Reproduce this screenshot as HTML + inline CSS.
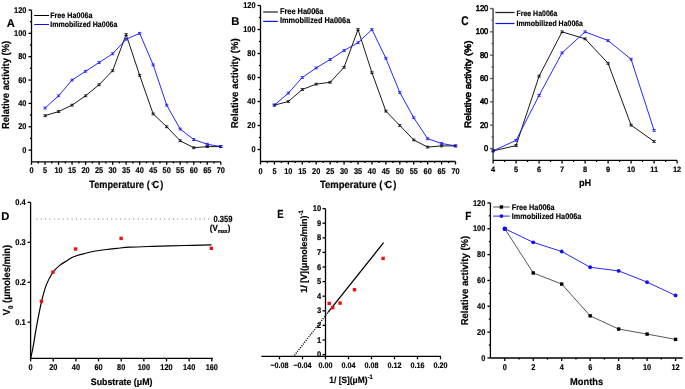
<!DOCTYPE html>
<html><head><meta charset="utf-8"><style>
html,body{margin:0;padding:0;background:#fff;}
body{width:685px;height:389px;overflow:hidden;}
svg{display:block;font-family:"Liberation Sans", sans-serif;text-rendering:geometricPrecision;will-change:transform;}
text{stroke:#000;stroke-width:0.18px;}
</style></head><body>
<svg width="685" height="389" viewBox="0 0 685 389">
<rect width="685" height="389" fill="#fff"/>
<line x1="31.5" y1="10" x2="31.5" y2="161.8" stroke="#000" stroke-width="1.3" />
<line x1="28.5" y1="150.1" x2="31.5" y2="150.1" stroke="#000" stroke-width="1.3" />
<line x1="28.5" y1="126.75" x2="31.5" y2="126.75" stroke="#000" stroke-width="1.3" />
<line x1="28.5" y1="103.4" x2="31.5" y2="103.4" stroke="#000" stroke-width="1.3" />
<line x1="28.5" y1="80.05" x2="31.5" y2="80.05" stroke="#000" stroke-width="1.3" />
<line x1="28.5" y1="56.7" x2="31.5" y2="56.7" stroke="#000" stroke-width="1.3" />
<line x1="28.5" y1="33.35" x2="31.5" y2="33.35" stroke="#000" stroke-width="1.3" />
<line x1="28.5" y1="10" x2="31.5" y2="10" stroke="#000" stroke-width="1.3" />
<line x1="29.9" y1="138.42" x2="31.5" y2="138.42" stroke="#000" stroke-width="1.3" />
<line x1="29.9" y1="115.07" x2="31.5" y2="115.07" stroke="#000" stroke-width="1.3" />
<line x1="29.9" y1="91.72" x2="31.5" y2="91.72" stroke="#000" stroke-width="1.3" />
<line x1="29.9" y1="68.38" x2="31.5" y2="68.38" stroke="#000" stroke-width="1.3" />
<line x1="29.9" y1="45.02" x2="31.5" y2="45.02" stroke="#000" stroke-width="1.3" />
<line x1="29.9" y1="21.67" x2="31.5" y2="21.67" stroke="#000" stroke-width="1.3" />
<text transform="translate(26.4,152.8) scale(0.88,1)" font-size="8.4" text-anchor="end" font-weight="bold" fill="#000" >0</text>
<text transform="translate(26.4,129.45) scale(0.88,1)" font-size="8.4" text-anchor="end" font-weight="bold" fill="#000" >20</text>
<text transform="translate(26.4,106.1) scale(0.88,1)" font-size="8.4" text-anchor="end" font-weight="bold" fill="#000" >40</text>
<text transform="translate(26.4,82.75) scale(0.88,1)" font-size="8.4" text-anchor="end" font-weight="bold" fill="#000" >60</text>
<text transform="translate(26.4,59.4) scale(0.88,1)" font-size="8.4" text-anchor="end" font-weight="bold" fill="#000" >80</text>
<text transform="translate(26.4,36.05) scale(0.88,1)" font-size="8.4" text-anchor="end" font-weight="bold" fill="#000" >100</text>
<text transform="translate(26.4,12.7) scale(0.88,1)" font-size="8.4" text-anchor="end" font-weight="bold" fill="#000" >120</text>
<line x1="31.5" y1="161.8" x2="220.8" y2="161.8" stroke="#000" stroke-width="1.3" />
<line x1="31.5" y1="161.8" x2="31.5" y2="164.8" stroke="#000" stroke-width="1.3" />
<line x1="45.02" y1="161.8" x2="45.02" y2="164.8" stroke="#000" stroke-width="1.3" />
<line x1="58.54" y1="161.8" x2="58.54" y2="164.8" stroke="#000" stroke-width="1.3" />
<line x1="72.06" y1="161.8" x2="72.06" y2="164.8" stroke="#000" stroke-width="1.3" />
<line x1="85.58" y1="161.8" x2="85.58" y2="164.8" stroke="#000" stroke-width="1.3" />
<line x1="99.1" y1="161.8" x2="99.1" y2="164.8" stroke="#000" stroke-width="1.3" />
<line x1="112.62" y1="161.8" x2="112.62" y2="164.8" stroke="#000" stroke-width="1.3" />
<line x1="126.14" y1="161.8" x2="126.14" y2="164.8" stroke="#000" stroke-width="1.3" />
<line x1="139.66" y1="161.8" x2="139.66" y2="164.8" stroke="#000" stroke-width="1.3" />
<line x1="153.18" y1="161.8" x2="153.18" y2="164.8" stroke="#000" stroke-width="1.3" />
<line x1="166.7" y1="161.8" x2="166.7" y2="164.8" stroke="#000" stroke-width="1.3" />
<line x1="180.22" y1="161.8" x2="180.22" y2="164.8" stroke="#000" stroke-width="1.3" />
<line x1="193.74" y1="161.8" x2="193.74" y2="164.8" stroke="#000" stroke-width="1.3" />
<line x1="207.26" y1="161.8" x2="207.26" y2="164.8" stroke="#000" stroke-width="1.3" />
<line x1="220.78" y1="161.8" x2="220.78" y2="164.8" stroke="#000" stroke-width="1.3" />
<line x1="38.26" y1="161.8" x2="38.26" y2="163.4" stroke="#000" stroke-width="1.3" />
<line x1="51.78" y1="161.8" x2="51.78" y2="163.4" stroke="#000" stroke-width="1.3" />
<line x1="65.3" y1="161.8" x2="65.3" y2="163.4" stroke="#000" stroke-width="1.3" />
<line x1="78.82" y1="161.8" x2="78.82" y2="163.4" stroke="#000" stroke-width="1.3" />
<line x1="92.34" y1="161.8" x2="92.34" y2="163.4" stroke="#000" stroke-width="1.3" />
<line x1="105.86" y1="161.8" x2="105.86" y2="163.4" stroke="#000" stroke-width="1.3" />
<line x1="119.38" y1="161.8" x2="119.38" y2="163.4" stroke="#000" stroke-width="1.3" />
<line x1="132.9" y1="161.8" x2="132.9" y2="163.4" stroke="#000" stroke-width="1.3" />
<line x1="146.42" y1="161.8" x2="146.42" y2="163.4" stroke="#000" stroke-width="1.3" />
<line x1="159.94" y1="161.8" x2="159.94" y2="163.4" stroke="#000" stroke-width="1.3" />
<line x1="173.46" y1="161.8" x2="173.46" y2="163.4" stroke="#000" stroke-width="1.3" />
<line x1="186.98" y1="161.8" x2="186.98" y2="163.4" stroke="#000" stroke-width="1.3" />
<line x1="200.5" y1="161.8" x2="200.5" y2="163.4" stroke="#000" stroke-width="1.3" />
<line x1="214.02" y1="161.8" x2="214.02" y2="163.4" stroke="#000" stroke-width="1.3" />
<text transform="translate(31.5,173.4) scale(0.88,1)" font-size="8.4" text-anchor="middle" font-weight="bold" fill="#000" >0</text>
<text transform="translate(45.02,173.4) scale(0.88,1)" font-size="8.4" text-anchor="middle" font-weight="bold" fill="#000" >5</text>
<text transform="translate(58.54,173.4) scale(0.88,1)" font-size="8.4" text-anchor="middle" font-weight="bold" fill="#000" >10</text>
<text transform="translate(72.06,173.4) scale(0.88,1)" font-size="8.4" text-anchor="middle" font-weight="bold" fill="#000" >15</text>
<text transform="translate(85.58,173.4) scale(0.88,1)" font-size="8.4" text-anchor="middle" font-weight="bold" fill="#000" >20</text>
<text transform="translate(99.1,173.4) scale(0.88,1)" font-size="8.4" text-anchor="middle" font-weight="bold" fill="#000" >25</text>
<text transform="translate(112.62,173.4) scale(0.88,1)" font-size="8.4" text-anchor="middle" font-weight="bold" fill="#000" >30</text>
<text transform="translate(126.14,173.4) scale(0.88,1)" font-size="8.4" text-anchor="middle" font-weight="bold" fill="#000" >35</text>
<text transform="translate(139.66,173.4) scale(0.88,1)" font-size="8.4" text-anchor="middle" font-weight="bold" fill="#000" >40</text>
<text transform="translate(153.18,173.4) scale(0.88,1)" font-size="8.4" text-anchor="middle" font-weight="bold" fill="#000" >45</text>
<text transform="translate(166.7,173.4) scale(0.88,1)" font-size="8.4" text-anchor="middle" font-weight="bold" fill="#000" >50</text>
<text transform="translate(180.22,173.4) scale(0.88,1)" font-size="8.4" text-anchor="middle" font-weight="bold" fill="#000" >55</text>
<text transform="translate(193.74,173.4) scale(0.88,1)" font-size="8.4" text-anchor="middle" font-weight="bold" fill="#000" >60</text>
<text transform="translate(207.26,173.4) scale(0.88,1)" font-size="8.4" text-anchor="middle" font-weight="bold" fill="#000" >65</text>
<text transform="translate(220.78,173.4) scale(0.88,1)" font-size="8.4" text-anchor="middle" font-weight="bold" fill="#000" >70</text>
<text transform="translate(10.7,26.8) scale(1.0,1)" font-size="11.2" text-anchor="middle" font-weight="bold" fill="#000" >A</text>
<text transform="translate(9,84.9) rotate(-90) scale(0.92,1)" font-size="10.2" text-anchor="middle" font-weight="bold" >Relative activity (%)</text>
<text transform="translate(126.3,188.1) scale(0.883,1)" font-size="10.4" text-anchor="middle" font-weight="bold" fill="#000" >Temperature (<tspan dx="1.6" font-size="8" dy="-0.6">°</tspan><tspan dx="-1.6" dy="0.6">C</tspan><tspan dx="1.2">)</tspan></text>
<line x1="34.2" y1="15.5" x2="49" y2="15.5" stroke="#000" stroke-width="1.0" />
<line x1="34.2" y1="24.5" x2="49" y2="24.5" stroke="#1010f5" stroke-width="1.0" />
<text transform="translate(50.2,17.9) scale(0.895,1)" font-size="8.0" text-anchor="start" font-weight="bold" fill="#000" >Free Ha006a</text>
<text transform="translate(50.2,26.8) scale(0.879,1)" font-size="8.0" text-anchor="start" font-weight="bold" fill="#000" >Immobilized Ha006a</text>
<polyline points="45.02,115.66 58.54,111.57 72.06,105.15 85.58,95.81 99.1,84.72 112.62,70.71 126.14,34.52 139.66,75.38 153.18,113.91 166.7,126.75 180.22,140.76 193.74,147.76 207.26,146.6 220.78,146.6" fill="none" stroke="#000" stroke-width="0.9" stroke-linejoin="miter"/>
<polyline points="45.02,108.07 58.54,95.81 72.06,80.05 85.58,71.29 99.1,62.54 112.62,53.78 126.14,39.19 139.66,33.35 153.18,64.87 166.7,105.15 180.22,129.08 193.74,139.59 207.26,144.26 220.78,146.6" fill="none" stroke="#1010f5" stroke-width="0.9" stroke-linejoin="miter"/>
<line x1="45.02" y1="114.76" x2="45.02" y2="116.56" stroke="#000" stroke-width="0.8" />
<line x1="43.32" y1="114.76" x2="46.72" y2="114.76" stroke="#000" stroke-width="0.8" />
<line x1="43.32" y1="116.56" x2="46.72" y2="116.56" stroke="#000" stroke-width="0.8" />
<line x1="58.54" y1="110.67" x2="58.54" y2="112.47" stroke="#000" stroke-width="0.8" />
<line x1="56.84" y1="110.67" x2="60.24" y2="110.67" stroke="#000" stroke-width="0.8" />
<line x1="56.84" y1="112.47" x2="60.24" y2="112.47" stroke="#000" stroke-width="0.8" />
<line x1="72.06" y1="104.25" x2="72.06" y2="106.05" stroke="#000" stroke-width="0.8" />
<line x1="70.36" y1="104.25" x2="73.76" y2="104.25" stroke="#000" stroke-width="0.8" />
<line x1="70.36" y1="106.05" x2="73.76" y2="106.05" stroke="#000" stroke-width="0.8" />
<line x1="85.58" y1="94.91" x2="85.58" y2="96.71" stroke="#000" stroke-width="0.8" />
<line x1="83.88" y1="94.91" x2="87.28" y2="94.91" stroke="#000" stroke-width="0.8" />
<line x1="83.88" y1="96.71" x2="87.28" y2="96.71" stroke="#000" stroke-width="0.8" />
<line x1="99.1" y1="83.82" x2="99.1" y2="85.62" stroke="#000" stroke-width="0.8" />
<line x1="97.4" y1="83.82" x2="100.8" y2="83.82" stroke="#000" stroke-width="0.8" />
<line x1="97.4" y1="85.62" x2="100.8" y2="85.62" stroke="#000" stroke-width="0.8" />
<line x1="112.62" y1="69.81" x2="112.62" y2="71.61" stroke="#000" stroke-width="0.8" />
<line x1="110.92" y1="69.81" x2="114.32" y2="69.81" stroke="#000" stroke-width="0.8" />
<line x1="110.92" y1="71.61" x2="114.32" y2="71.61" stroke="#000" stroke-width="0.8" />
<line x1="126.14" y1="33.62" x2="126.14" y2="35.42" stroke="#000" stroke-width="0.8" />
<line x1="124.44" y1="33.62" x2="127.84" y2="33.62" stroke="#000" stroke-width="0.8" />
<line x1="124.44" y1="35.42" x2="127.84" y2="35.42" stroke="#000" stroke-width="0.8" />
<line x1="139.66" y1="74.48" x2="139.66" y2="76.28" stroke="#000" stroke-width="0.8" />
<line x1="137.96" y1="74.48" x2="141.36" y2="74.48" stroke="#000" stroke-width="0.8" />
<line x1="137.96" y1="76.28" x2="141.36" y2="76.28" stroke="#000" stroke-width="0.8" />
<line x1="153.18" y1="113.01" x2="153.18" y2="114.81" stroke="#000" stroke-width="0.8" />
<line x1="151.48" y1="113.01" x2="154.88" y2="113.01" stroke="#000" stroke-width="0.8" />
<line x1="151.48" y1="114.81" x2="154.88" y2="114.81" stroke="#000" stroke-width="0.8" />
<line x1="166.7" y1="125.85" x2="166.7" y2="127.65" stroke="#000" stroke-width="0.8" />
<line x1="165" y1="125.85" x2="168.4" y2="125.85" stroke="#000" stroke-width="0.8" />
<line x1="165" y1="127.65" x2="168.4" y2="127.65" stroke="#000" stroke-width="0.8" />
<line x1="180.22" y1="139.86" x2="180.22" y2="141.66" stroke="#000" stroke-width="0.8" />
<line x1="178.52" y1="139.86" x2="181.92" y2="139.86" stroke="#000" stroke-width="0.8" />
<line x1="178.52" y1="141.66" x2="181.92" y2="141.66" stroke="#000" stroke-width="0.8" />
<line x1="193.74" y1="146.86" x2="193.74" y2="148.66" stroke="#000" stroke-width="0.8" />
<line x1="192.04" y1="146.86" x2="195.44" y2="146.86" stroke="#000" stroke-width="0.8" />
<line x1="192.04" y1="148.66" x2="195.44" y2="148.66" stroke="#000" stroke-width="0.8" />
<line x1="207.26" y1="145.7" x2="207.26" y2="147.5" stroke="#000" stroke-width="0.8" />
<line x1="205.56" y1="145.7" x2="208.96" y2="145.7" stroke="#000" stroke-width="0.8" />
<line x1="205.56" y1="147.5" x2="208.96" y2="147.5" stroke="#000" stroke-width="0.8" />
<line x1="220.78" y1="145.7" x2="220.78" y2="147.5" stroke="#000" stroke-width="0.8" />
<line x1="219.08" y1="145.7" x2="222.48" y2="145.7" stroke="#000" stroke-width="0.8" />
<line x1="219.08" y1="147.5" x2="222.48" y2="147.5" stroke="#000" stroke-width="0.8" />
<line x1="45.02" y1="107.17" x2="45.02" y2="108.97" stroke="#1010f5" stroke-width="0.8" />
<line x1="43.32" y1="107.17" x2="46.72" y2="107.17" stroke="#1010f5" stroke-width="0.8" />
<line x1="43.32" y1="108.97" x2="46.72" y2="108.97" stroke="#1010f5" stroke-width="0.8" />
<line x1="58.54" y1="94.91" x2="58.54" y2="96.71" stroke="#1010f5" stroke-width="0.8" />
<line x1="56.84" y1="94.91" x2="60.24" y2="94.91" stroke="#1010f5" stroke-width="0.8" />
<line x1="56.84" y1="96.71" x2="60.24" y2="96.71" stroke="#1010f5" stroke-width="0.8" />
<line x1="72.06" y1="79.15" x2="72.06" y2="80.95" stroke="#1010f5" stroke-width="0.8" />
<line x1="70.36" y1="79.15" x2="73.76" y2="79.15" stroke="#1010f5" stroke-width="0.8" />
<line x1="70.36" y1="80.95" x2="73.76" y2="80.95" stroke="#1010f5" stroke-width="0.8" />
<line x1="85.58" y1="70.39" x2="85.58" y2="72.19" stroke="#1010f5" stroke-width="0.8" />
<line x1="83.88" y1="70.39" x2="87.28" y2="70.39" stroke="#1010f5" stroke-width="0.8" />
<line x1="83.88" y1="72.19" x2="87.28" y2="72.19" stroke="#1010f5" stroke-width="0.8" />
<line x1="99.1" y1="61.64" x2="99.1" y2="63.44" stroke="#1010f5" stroke-width="0.8" />
<line x1="97.4" y1="61.64" x2="100.8" y2="61.64" stroke="#1010f5" stroke-width="0.8" />
<line x1="97.4" y1="63.44" x2="100.8" y2="63.44" stroke="#1010f5" stroke-width="0.8" />
<line x1="112.62" y1="52.88" x2="112.62" y2="54.68" stroke="#1010f5" stroke-width="0.8" />
<line x1="110.92" y1="52.88" x2="114.32" y2="52.88" stroke="#1010f5" stroke-width="0.8" />
<line x1="110.92" y1="54.68" x2="114.32" y2="54.68" stroke="#1010f5" stroke-width="0.8" />
<line x1="126.14" y1="38.29" x2="126.14" y2="40.09" stroke="#1010f5" stroke-width="0.8" />
<line x1="124.44" y1="38.29" x2="127.84" y2="38.29" stroke="#1010f5" stroke-width="0.8" />
<line x1="124.44" y1="40.09" x2="127.84" y2="40.09" stroke="#1010f5" stroke-width="0.8" />
<line x1="139.66" y1="32.45" x2="139.66" y2="34.25" stroke="#1010f5" stroke-width="0.8" />
<line x1="137.96" y1="32.45" x2="141.36" y2="32.45" stroke="#1010f5" stroke-width="0.8" />
<line x1="137.96" y1="34.25" x2="141.36" y2="34.25" stroke="#1010f5" stroke-width="0.8" />
<line x1="153.18" y1="63.97" x2="153.18" y2="65.77" stroke="#1010f5" stroke-width="0.8" />
<line x1="151.48" y1="63.97" x2="154.88" y2="63.97" stroke="#1010f5" stroke-width="0.8" />
<line x1="151.48" y1="65.77" x2="154.88" y2="65.77" stroke="#1010f5" stroke-width="0.8" />
<line x1="166.7" y1="104.25" x2="166.7" y2="106.05" stroke="#1010f5" stroke-width="0.8" />
<line x1="165" y1="104.25" x2="168.4" y2="104.25" stroke="#1010f5" stroke-width="0.8" />
<line x1="165" y1="106.05" x2="168.4" y2="106.05" stroke="#1010f5" stroke-width="0.8" />
<line x1="180.22" y1="128.18" x2="180.22" y2="129.98" stroke="#1010f5" stroke-width="0.8" />
<line x1="178.52" y1="128.18" x2="181.92" y2="128.18" stroke="#1010f5" stroke-width="0.8" />
<line x1="178.52" y1="129.98" x2="181.92" y2="129.98" stroke="#1010f5" stroke-width="0.8" />
<line x1="193.74" y1="138.69" x2="193.74" y2="140.49" stroke="#1010f5" stroke-width="0.8" />
<line x1="192.04" y1="138.69" x2="195.44" y2="138.69" stroke="#1010f5" stroke-width="0.8" />
<line x1="192.04" y1="140.49" x2="195.44" y2="140.49" stroke="#1010f5" stroke-width="0.8" />
<line x1="207.26" y1="143.36" x2="207.26" y2="145.16" stroke="#1010f5" stroke-width="0.8" />
<line x1="205.56" y1="143.36" x2="208.96" y2="143.36" stroke="#1010f5" stroke-width="0.8" />
<line x1="205.56" y1="145.16" x2="208.96" y2="145.16" stroke="#1010f5" stroke-width="0.8" />
<line x1="220.78" y1="145.7" x2="220.78" y2="147.5" stroke="#1010f5" stroke-width="0.8" />
<line x1="219.08" y1="145.7" x2="222.48" y2="145.7" stroke="#1010f5" stroke-width="0.8" />
<line x1="219.08" y1="147.5" x2="222.48" y2="147.5" stroke="#1010f5" stroke-width="0.8" />
<line x1="260.5" y1="5.5" x2="260.5" y2="161.5" stroke="#000" stroke-width="1.3" />
<line x1="257.5" y1="149.5" x2="260.5" y2="149.5" stroke="#000" stroke-width="1.3" />
<line x1="257.5" y1="125.5" x2="260.5" y2="125.5" stroke="#000" stroke-width="1.3" />
<line x1="257.5" y1="101.5" x2="260.5" y2="101.5" stroke="#000" stroke-width="1.3" />
<line x1="257.5" y1="77.5" x2="260.5" y2="77.5" stroke="#000" stroke-width="1.3" />
<line x1="257.5" y1="53.5" x2="260.5" y2="53.5" stroke="#000" stroke-width="1.3" />
<line x1="257.5" y1="29.5" x2="260.5" y2="29.5" stroke="#000" stroke-width="1.3" />
<line x1="257.5" y1="5.5" x2="260.5" y2="5.5" stroke="#000" stroke-width="1.3" />
<line x1="258.9" y1="137.5" x2="260.5" y2="137.5" stroke="#000" stroke-width="1.3" />
<line x1="258.9" y1="113.5" x2="260.5" y2="113.5" stroke="#000" stroke-width="1.3" />
<line x1="258.9" y1="89.5" x2="260.5" y2="89.5" stroke="#000" stroke-width="1.3" />
<line x1="258.9" y1="65.5" x2="260.5" y2="65.5" stroke="#000" stroke-width="1.3" />
<line x1="258.9" y1="41.5" x2="260.5" y2="41.5" stroke="#000" stroke-width="1.3" />
<line x1="258.9" y1="17.5" x2="260.5" y2="17.5" stroke="#000" stroke-width="1.3" />
<text transform="translate(255.5,152.2) scale(0.88,1)" font-size="8.4" text-anchor="end" font-weight="bold" fill="#000" >0</text>
<text transform="translate(255.5,128.2) scale(0.88,1)" font-size="8.4" text-anchor="end" font-weight="bold" fill="#000" >20</text>
<text transform="translate(255.5,104.2) scale(0.88,1)" font-size="8.4" text-anchor="end" font-weight="bold" fill="#000" >40</text>
<text transform="translate(255.5,80.2) scale(0.88,1)" font-size="8.4" text-anchor="end" font-weight="bold" fill="#000" >60</text>
<text transform="translate(255.5,56.2) scale(0.88,1)" font-size="8.4" text-anchor="end" font-weight="bold" fill="#000" >80</text>
<text transform="translate(255.5,32.2) scale(0.88,1)" font-size="8.4" text-anchor="end" font-weight="bold" fill="#000" >100</text>
<text transform="translate(255.5,8.2) scale(0.88,1)" font-size="8.4" text-anchor="end" font-weight="bold" fill="#000" >120</text>
<line x1="260.5" y1="161.5" x2="455.5" y2="161.5" stroke="#000" stroke-width="1.3" />
<line x1="260.5" y1="161.5" x2="260.5" y2="164.5" stroke="#000" stroke-width="1.3" />
<line x1="274.43" y1="161.5" x2="274.43" y2="164.5" stroke="#000" stroke-width="1.3" />
<line x1="288.36" y1="161.5" x2="288.36" y2="164.5" stroke="#000" stroke-width="1.3" />
<line x1="302.29" y1="161.5" x2="302.29" y2="164.5" stroke="#000" stroke-width="1.3" />
<line x1="316.22" y1="161.5" x2="316.22" y2="164.5" stroke="#000" stroke-width="1.3" />
<line x1="330.15" y1="161.5" x2="330.15" y2="164.5" stroke="#000" stroke-width="1.3" />
<line x1="344.08" y1="161.5" x2="344.08" y2="164.5" stroke="#000" stroke-width="1.3" />
<line x1="358.01" y1="161.5" x2="358.01" y2="164.5" stroke="#000" stroke-width="1.3" />
<line x1="371.94" y1="161.5" x2="371.94" y2="164.5" stroke="#000" stroke-width="1.3" />
<line x1="385.87" y1="161.5" x2="385.87" y2="164.5" stroke="#000" stroke-width="1.3" />
<line x1="399.8" y1="161.5" x2="399.8" y2="164.5" stroke="#000" stroke-width="1.3" />
<line x1="413.73" y1="161.5" x2="413.73" y2="164.5" stroke="#000" stroke-width="1.3" />
<line x1="427.66" y1="161.5" x2="427.66" y2="164.5" stroke="#000" stroke-width="1.3" />
<line x1="441.59" y1="161.5" x2="441.59" y2="164.5" stroke="#000" stroke-width="1.3" />
<line x1="455.52" y1="161.5" x2="455.52" y2="164.5" stroke="#000" stroke-width="1.3" />
<line x1="267.46" y1="161.5" x2="267.46" y2="163.1" stroke="#000" stroke-width="1.3" />
<line x1="281.39" y1="161.5" x2="281.39" y2="163.1" stroke="#000" stroke-width="1.3" />
<line x1="295.32" y1="161.5" x2="295.32" y2="163.1" stroke="#000" stroke-width="1.3" />
<line x1="309.25" y1="161.5" x2="309.25" y2="163.1" stroke="#000" stroke-width="1.3" />
<line x1="323.19" y1="161.5" x2="323.19" y2="163.1" stroke="#000" stroke-width="1.3" />
<line x1="337.12" y1="161.5" x2="337.12" y2="163.1" stroke="#000" stroke-width="1.3" />
<line x1="351.05" y1="161.5" x2="351.05" y2="163.1" stroke="#000" stroke-width="1.3" />
<line x1="364.98" y1="161.5" x2="364.98" y2="163.1" stroke="#000" stroke-width="1.3" />
<line x1="378.9" y1="161.5" x2="378.9" y2="163.1" stroke="#000" stroke-width="1.3" />
<line x1="392.84" y1="161.5" x2="392.84" y2="163.1" stroke="#000" stroke-width="1.3" />
<line x1="406.76" y1="161.5" x2="406.76" y2="163.1" stroke="#000" stroke-width="1.3" />
<line x1="420.69" y1="161.5" x2="420.69" y2="163.1" stroke="#000" stroke-width="1.3" />
<line x1="434.62" y1="161.5" x2="434.62" y2="163.1" stroke="#000" stroke-width="1.3" />
<line x1="448.56" y1="161.5" x2="448.56" y2="163.1" stroke="#000" stroke-width="1.3" />
<text transform="translate(260.5,173.6) scale(0.88,1)" font-size="8.4" text-anchor="middle" font-weight="bold" fill="#000" >0</text>
<text transform="translate(274.43,173.6) scale(0.88,1)" font-size="8.4" text-anchor="middle" font-weight="bold" fill="#000" >5</text>
<text transform="translate(288.36,173.6) scale(0.88,1)" font-size="8.4" text-anchor="middle" font-weight="bold" fill="#000" >10</text>
<text transform="translate(302.29,173.6) scale(0.88,1)" font-size="8.4" text-anchor="middle" font-weight="bold" fill="#000" >15</text>
<text transform="translate(316.22,173.6) scale(0.88,1)" font-size="8.4" text-anchor="middle" font-weight="bold" fill="#000" >20</text>
<text transform="translate(330.15,173.6) scale(0.88,1)" font-size="8.4" text-anchor="middle" font-weight="bold" fill="#000" >25</text>
<text transform="translate(344.08,173.6) scale(0.88,1)" font-size="8.4" text-anchor="middle" font-weight="bold" fill="#000" >30</text>
<text transform="translate(358.01,173.6) scale(0.88,1)" font-size="8.4" text-anchor="middle" font-weight="bold" fill="#000" >35</text>
<text transform="translate(371.94,173.6) scale(0.88,1)" font-size="8.4" text-anchor="middle" font-weight="bold" fill="#000" >40</text>
<text transform="translate(385.87,173.6) scale(0.88,1)" font-size="8.4" text-anchor="middle" font-weight="bold" fill="#000" >45</text>
<text transform="translate(399.8,173.6) scale(0.88,1)" font-size="8.4" text-anchor="middle" font-weight="bold" fill="#000" >50</text>
<text transform="translate(413.73,173.6) scale(0.88,1)" font-size="8.4" text-anchor="middle" font-weight="bold" fill="#000" >55</text>
<text transform="translate(427.66,173.6) scale(0.88,1)" font-size="8.4" text-anchor="middle" font-weight="bold" fill="#000" >60</text>
<text transform="translate(441.59,173.6) scale(0.88,1)" font-size="8.4" text-anchor="middle" font-weight="bold" fill="#000" >65</text>
<text transform="translate(455.52,173.6) scale(0.88,1)" font-size="8.4" text-anchor="middle" font-weight="bold" fill="#000" >70</text>
<text transform="translate(235.4,24.8) scale(1.0,1)" font-size="11.2" text-anchor="middle" font-weight="bold" fill="#000" >B</text>
<text transform="translate(238,83.35) rotate(-90) scale(0.957,1)" font-size="10.0" text-anchor="middle" font-weight="bold" >Relative activity (%)</text>
<text transform="translate(358.2,188.1) scale(0.912,1)" font-size="10.4" text-anchor="middle" font-weight="bold" fill="#000" >Temperature (<tspan dx="1.6" font-size="8" dy="-0.6">°</tspan><tspan dx="-1.6" dy="0.6">C</tspan><tspan dx="1.2">)</tspan></text>
<line x1="263.2" y1="12" x2="277.8" y2="12" stroke="#555" stroke-width="1.6" />
<line x1="263.2" y1="21.4" x2="277.8" y2="21.4" stroke="#1010f5" stroke-width="1.2" />
<text transform="translate(279.9,14) scale(0.891,1)" font-size="8.3" text-anchor="start" font-weight="bold" fill="#000" >Free Ha006a</text>
<text transform="translate(279.9,23) scale(0.887,1)" font-size="8.3" text-anchor="start" font-weight="bold" fill="#000" >Immobilized Ha006a</text>
<polyline points="274.43,105.1 288.36,101.5 302.29,89.5 316.22,84.1 330.15,82.3 344.08,67.3 358.01,29.5 371.94,72.7 385.87,111.1 399.8,125.5 413.73,139.9 427.66,147.1 441.59,145.9 455.52,145.9" fill="none" stroke="#000" stroke-width="0.9" stroke-linejoin="miter"/>
<polyline points="274.43,105.1 288.36,93.1 302.29,77.5 316.22,67.9 330.15,59.5 344.08,50.5 358.01,42.7 371.94,29.5 385.87,58.3 399.8,92.5 413.73,117.7 427.66,138.7 441.59,143.5 455.52,145.9" fill="none" stroke="#1010f5" stroke-width="0.9" stroke-linejoin="miter"/>
<line x1="274.43" y1="104.2" x2="274.43" y2="106" stroke="#000" stroke-width="0.8" />
<line x1="272.73" y1="104.2" x2="276.13" y2="104.2" stroke="#000" stroke-width="0.8" />
<line x1="272.73" y1="106" x2="276.13" y2="106" stroke="#000" stroke-width="0.8" />
<line x1="288.36" y1="100.6" x2="288.36" y2="102.4" stroke="#000" stroke-width="0.8" />
<line x1="286.66" y1="100.6" x2="290.06" y2="100.6" stroke="#000" stroke-width="0.8" />
<line x1="286.66" y1="102.4" x2="290.06" y2="102.4" stroke="#000" stroke-width="0.8" />
<line x1="302.29" y1="88.6" x2="302.29" y2="90.4" stroke="#000" stroke-width="0.8" />
<line x1="300.59" y1="88.6" x2="303.99" y2="88.6" stroke="#000" stroke-width="0.8" />
<line x1="300.59" y1="90.4" x2="303.99" y2="90.4" stroke="#000" stroke-width="0.8" />
<line x1="316.22" y1="83.2" x2="316.22" y2="85" stroke="#000" stroke-width="0.8" />
<line x1="314.52" y1="83.2" x2="317.92" y2="83.2" stroke="#000" stroke-width="0.8" />
<line x1="314.52" y1="85" x2="317.92" y2="85" stroke="#000" stroke-width="0.8" />
<line x1="330.15" y1="81.4" x2="330.15" y2="83.2" stroke="#000" stroke-width="0.8" />
<line x1="328.45" y1="81.4" x2="331.85" y2="81.4" stroke="#000" stroke-width="0.8" />
<line x1="328.45" y1="83.2" x2="331.85" y2="83.2" stroke="#000" stroke-width="0.8" />
<line x1="344.08" y1="66.4" x2="344.08" y2="68.2" stroke="#000" stroke-width="0.8" />
<line x1="342.38" y1="66.4" x2="345.78" y2="66.4" stroke="#000" stroke-width="0.8" />
<line x1="342.38" y1="68.2" x2="345.78" y2="68.2" stroke="#000" stroke-width="0.8" />
<line x1="358.01" y1="28.6" x2="358.01" y2="30.4" stroke="#000" stroke-width="0.8" />
<line x1="356.31" y1="28.6" x2="359.71" y2="28.6" stroke="#000" stroke-width="0.8" />
<line x1="356.31" y1="30.4" x2="359.71" y2="30.4" stroke="#000" stroke-width="0.8" />
<line x1="371.94" y1="71.8" x2="371.94" y2="73.6" stroke="#000" stroke-width="0.8" />
<line x1="370.24" y1="71.8" x2="373.64" y2="71.8" stroke="#000" stroke-width="0.8" />
<line x1="370.24" y1="73.6" x2="373.64" y2="73.6" stroke="#000" stroke-width="0.8" />
<line x1="385.87" y1="110.2" x2="385.87" y2="112" stroke="#000" stroke-width="0.8" />
<line x1="384.17" y1="110.2" x2="387.57" y2="110.2" stroke="#000" stroke-width="0.8" />
<line x1="384.17" y1="112" x2="387.57" y2="112" stroke="#000" stroke-width="0.8" />
<line x1="399.8" y1="124.6" x2="399.8" y2="126.4" stroke="#000" stroke-width="0.8" />
<line x1="398.1" y1="124.6" x2="401.5" y2="124.6" stroke="#000" stroke-width="0.8" />
<line x1="398.1" y1="126.4" x2="401.5" y2="126.4" stroke="#000" stroke-width="0.8" />
<line x1="413.73" y1="139" x2="413.73" y2="140.8" stroke="#000" stroke-width="0.8" />
<line x1="412.03" y1="139" x2="415.43" y2="139" stroke="#000" stroke-width="0.8" />
<line x1="412.03" y1="140.8" x2="415.43" y2="140.8" stroke="#000" stroke-width="0.8" />
<line x1="427.66" y1="146.2" x2="427.66" y2="148" stroke="#000" stroke-width="0.8" />
<line x1="425.96" y1="146.2" x2="429.36" y2="146.2" stroke="#000" stroke-width="0.8" />
<line x1="425.96" y1="148" x2="429.36" y2="148" stroke="#000" stroke-width="0.8" />
<line x1="441.59" y1="145" x2="441.59" y2="146.8" stroke="#000" stroke-width="0.8" />
<line x1="439.89" y1="145" x2="443.29" y2="145" stroke="#000" stroke-width="0.8" />
<line x1="439.89" y1="146.8" x2="443.29" y2="146.8" stroke="#000" stroke-width="0.8" />
<line x1="455.52" y1="145" x2="455.52" y2="146.8" stroke="#000" stroke-width="0.8" />
<line x1="453.82" y1="145" x2="457.22" y2="145" stroke="#000" stroke-width="0.8" />
<line x1="453.82" y1="146.8" x2="457.22" y2="146.8" stroke="#000" stroke-width="0.8" />
<line x1="274.43" y1="104.2" x2="274.43" y2="106" stroke="#1010f5" stroke-width="0.8" />
<line x1="272.73" y1="104.2" x2="276.13" y2="104.2" stroke="#1010f5" stroke-width="0.8" />
<line x1="272.73" y1="106" x2="276.13" y2="106" stroke="#1010f5" stroke-width="0.8" />
<line x1="288.36" y1="92.2" x2="288.36" y2="94" stroke="#1010f5" stroke-width="0.8" />
<line x1="286.66" y1="92.2" x2="290.06" y2="92.2" stroke="#1010f5" stroke-width="0.8" />
<line x1="286.66" y1="94" x2="290.06" y2="94" stroke="#1010f5" stroke-width="0.8" />
<line x1="302.29" y1="76.6" x2="302.29" y2="78.4" stroke="#1010f5" stroke-width="0.8" />
<line x1="300.59" y1="76.6" x2="303.99" y2="76.6" stroke="#1010f5" stroke-width="0.8" />
<line x1="300.59" y1="78.4" x2="303.99" y2="78.4" stroke="#1010f5" stroke-width="0.8" />
<line x1="316.22" y1="67" x2="316.22" y2="68.8" stroke="#1010f5" stroke-width="0.8" />
<line x1="314.52" y1="67" x2="317.92" y2="67" stroke="#1010f5" stroke-width="0.8" />
<line x1="314.52" y1="68.8" x2="317.92" y2="68.8" stroke="#1010f5" stroke-width="0.8" />
<line x1="330.15" y1="58.6" x2="330.15" y2="60.4" stroke="#1010f5" stroke-width="0.8" />
<line x1="328.45" y1="58.6" x2="331.85" y2="58.6" stroke="#1010f5" stroke-width="0.8" />
<line x1="328.45" y1="60.4" x2="331.85" y2="60.4" stroke="#1010f5" stroke-width="0.8" />
<line x1="344.08" y1="49.6" x2="344.08" y2="51.4" stroke="#1010f5" stroke-width="0.8" />
<line x1="342.38" y1="49.6" x2="345.78" y2="49.6" stroke="#1010f5" stroke-width="0.8" />
<line x1="342.38" y1="51.4" x2="345.78" y2="51.4" stroke="#1010f5" stroke-width="0.8" />
<line x1="358.01" y1="41.8" x2="358.01" y2="43.6" stroke="#1010f5" stroke-width="0.8" />
<line x1="356.31" y1="41.8" x2="359.71" y2="41.8" stroke="#1010f5" stroke-width="0.8" />
<line x1="356.31" y1="43.6" x2="359.71" y2="43.6" stroke="#1010f5" stroke-width="0.8" />
<line x1="371.94" y1="28.6" x2="371.94" y2="30.4" stroke="#1010f5" stroke-width="0.8" />
<line x1="370.24" y1="28.6" x2="373.64" y2="28.6" stroke="#1010f5" stroke-width="0.8" />
<line x1="370.24" y1="30.4" x2="373.64" y2="30.4" stroke="#1010f5" stroke-width="0.8" />
<line x1="385.87" y1="57.4" x2="385.87" y2="59.2" stroke="#1010f5" stroke-width="0.8" />
<line x1="384.17" y1="57.4" x2="387.57" y2="57.4" stroke="#1010f5" stroke-width="0.8" />
<line x1="384.17" y1="59.2" x2="387.57" y2="59.2" stroke="#1010f5" stroke-width="0.8" />
<line x1="399.8" y1="91.6" x2="399.8" y2="93.4" stroke="#1010f5" stroke-width="0.8" />
<line x1="398.1" y1="91.6" x2="401.5" y2="91.6" stroke="#1010f5" stroke-width="0.8" />
<line x1="398.1" y1="93.4" x2="401.5" y2="93.4" stroke="#1010f5" stroke-width="0.8" />
<line x1="413.73" y1="116.8" x2="413.73" y2="118.6" stroke="#1010f5" stroke-width="0.8" />
<line x1="412.03" y1="116.8" x2="415.43" y2="116.8" stroke="#1010f5" stroke-width="0.8" />
<line x1="412.03" y1="118.6" x2="415.43" y2="118.6" stroke="#1010f5" stroke-width="0.8" />
<line x1="427.66" y1="137.8" x2="427.66" y2="139.6" stroke="#1010f5" stroke-width="0.8" />
<line x1="425.96" y1="137.8" x2="429.36" y2="137.8" stroke="#1010f5" stroke-width="0.8" />
<line x1="425.96" y1="139.6" x2="429.36" y2="139.6" stroke="#1010f5" stroke-width="0.8" />
<line x1="441.59" y1="142.6" x2="441.59" y2="144.4" stroke="#1010f5" stroke-width="0.8" />
<line x1="439.89" y1="142.6" x2="443.29" y2="142.6" stroke="#1010f5" stroke-width="0.8" />
<line x1="439.89" y1="144.4" x2="443.29" y2="144.4" stroke="#1010f5" stroke-width="0.8" />
<line x1="455.52" y1="145" x2="455.52" y2="146.8" stroke="#1010f5" stroke-width="0.8" />
<line x1="453.82" y1="145" x2="457.22" y2="145" stroke="#1010f5" stroke-width="0.8" />
<line x1="453.82" y1="146.8" x2="457.22" y2="146.8" stroke="#1010f5" stroke-width="0.8" />
<line x1="493.1" y1="8.5" x2="493.1" y2="160.4" stroke="#555" stroke-width="1.6" />
<line x1="490.1" y1="148.5" x2="493.1" y2="148.5" stroke="#555" stroke-width="1.3" />
<line x1="490.1" y1="125.17" x2="493.1" y2="125.17" stroke="#555" stroke-width="1.3" />
<line x1="490.1" y1="101.83" x2="493.1" y2="101.83" stroke="#555" stroke-width="1.3" />
<line x1="490.1" y1="78.5" x2="493.1" y2="78.5" stroke="#555" stroke-width="1.3" />
<line x1="490.1" y1="55.16" x2="493.1" y2="55.16" stroke="#555" stroke-width="1.3" />
<line x1="490.1" y1="31.83" x2="493.1" y2="31.83" stroke="#555" stroke-width="1.3" />
<line x1="490.1" y1="8.5" x2="493.1" y2="8.5" stroke="#555" stroke-width="1.3" />
<line x1="491.5" y1="136.83" x2="493.1" y2="136.83" stroke="#555" stroke-width="1.3" />
<line x1="491.5" y1="113.5" x2="493.1" y2="113.5" stroke="#555" stroke-width="1.3" />
<line x1="491.5" y1="90.16" x2="493.1" y2="90.16" stroke="#555" stroke-width="1.3" />
<line x1="491.5" y1="66.83" x2="493.1" y2="66.83" stroke="#555" stroke-width="1.3" />
<line x1="491.5" y1="43.5" x2="493.1" y2="43.5" stroke="#555" stroke-width="1.3" />
<line x1="491.5" y1="20.16" x2="493.1" y2="20.16" stroke="#555" stroke-width="1.3" />
<text transform="translate(488.3,150.9) scale(0.9,1)" font-size="8.4" text-anchor="end" font-weight="normal" fill="#000"  style="stroke-width:0.55px">0</text>
<text transform="translate(488.3,127.57) scale(0.9,1)" font-size="8.4" text-anchor="end" font-weight="normal" fill="#000"  style="stroke-width:0.55px">20</text>
<text transform="translate(488.3,104.23) scale(0.9,1)" font-size="8.4" text-anchor="end" font-weight="normal" fill="#000"  style="stroke-width:0.55px">40</text>
<text transform="translate(488.3,80.9) scale(0.9,1)" font-size="8.4" text-anchor="end" font-weight="normal" fill="#000"  style="stroke-width:0.55px">60</text>
<text transform="translate(488.3,57.56) scale(0.9,1)" font-size="8.4" text-anchor="end" font-weight="normal" fill="#000"  style="stroke-width:0.55px">80</text>
<text transform="translate(488.3,34.23) scale(0.9,1)" font-size="8.4" text-anchor="end" font-weight="normal" fill="#000"  style="stroke-width:0.55px">100</text>
<text transform="translate(488.3,10.9) scale(0.9,1)" font-size="8.4" text-anchor="end" font-weight="normal" fill="#000"  style="stroke-width:0.55px">120</text>
<line x1="493.1" y1="160.4" x2="677.1" y2="160.4" stroke="#000" stroke-width="1.3" />
<line x1="493.1" y1="160.4" x2="493.1" y2="163.4" stroke="#000" stroke-width="1.3" />
<line x1="516.1" y1="160.4" x2="516.1" y2="163.4" stroke="#000" stroke-width="1.3" />
<line x1="539.1" y1="160.4" x2="539.1" y2="163.4" stroke="#000" stroke-width="1.3" />
<line x1="562.1" y1="160.4" x2="562.1" y2="163.4" stroke="#000" stroke-width="1.3" />
<line x1="585.1" y1="160.4" x2="585.1" y2="163.4" stroke="#000" stroke-width="1.3" />
<line x1="608.1" y1="160.4" x2="608.1" y2="163.4" stroke="#000" stroke-width="1.3" />
<line x1="631.1" y1="160.4" x2="631.1" y2="163.4" stroke="#000" stroke-width="1.3" />
<line x1="654.1" y1="160.4" x2="654.1" y2="163.4" stroke="#000" stroke-width="1.3" />
<line x1="677.1" y1="160.4" x2="677.1" y2="163.4" stroke="#000" stroke-width="1.3" />
<line x1="504.6" y1="160.4" x2="504.6" y2="162" stroke="#000" stroke-width="1.3" />
<line x1="527.6" y1="160.4" x2="527.6" y2="162" stroke="#000" stroke-width="1.3" />
<line x1="550.6" y1="160.4" x2="550.6" y2="162" stroke="#000" stroke-width="1.3" />
<line x1="573.6" y1="160.4" x2="573.6" y2="162" stroke="#000" stroke-width="1.3" />
<line x1="596.6" y1="160.4" x2="596.6" y2="162" stroke="#000" stroke-width="1.3" />
<line x1="619.6" y1="160.4" x2="619.6" y2="162" stroke="#000" stroke-width="1.3" />
<line x1="642.6" y1="160.4" x2="642.6" y2="162" stroke="#000" stroke-width="1.3" />
<line x1="665.6" y1="160.4" x2="665.6" y2="162" stroke="#000" stroke-width="1.3" />
<text transform="translate(493.1,171.9) scale(0.95,1)" font-size="7.8" text-anchor="middle" font-weight="bold" fill="#000" >4</text>
<text transform="translate(516.1,171.9) scale(0.95,1)" font-size="7.8" text-anchor="middle" font-weight="bold" fill="#000" >5</text>
<text transform="translate(539.1,171.9) scale(0.95,1)" font-size="7.8" text-anchor="middle" font-weight="bold" fill="#000" >6</text>
<text transform="translate(562.1,171.9) scale(0.95,1)" font-size="7.8" text-anchor="middle" font-weight="bold" fill="#000" >7</text>
<text transform="translate(585.1,171.9) scale(0.95,1)" font-size="7.8" text-anchor="middle" font-weight="bold" fill="#000" >8</text>
<text transform="translate(608.1,171.9) scale(0.95,1)" font-size="7.8" text-anchor="middle" font-weight="bold" fill="#000" >9</text>
<text transform="translate(631.1,171.9) scale(0.95,1)" font-size="7.8" text-anchor="middle" font-weight="bold" fill="#000" >10</text>
<text transform="translate(654.1,171.9) scale(0.95,1)" font-size="7.8" text-anchor="middle" font-weight="bold" fill="#000" >11</text>
<text transform="translate(677.1,171.9) scale(0.95,1)" font-size="7.8" text-anchor="middle" font-weight="bold" fill="#000" >12</text>
<text transform="translate(464.8,24.6) scale(0.8,1)" font-size="12.6" text-anchor="middle" font-weight="bold" fill="#000" >C</text>
<text transform="translate(471.2,84.25) rotate(-90) scale(1.084,1)" font-size="9.2" text-anchor="middle" font-weight="normal" style="stroke-width:0.6px">Relative activity (%)</text>
<text transform="translate(585,186.1) scale(0.95,1)" font-size="9.6" text-anchor="middle" font-weight="bold" fill="#000" >pH</text>
<line x1="495.4" y1="12.5" x2="514.5" y2="12.5" stroke="#222" stroke-width="1.3" />
<line x1="495.4" y1="23.5" x2="514.5" y2="23.5" stroke="#1010f5" stroke-width="1.2" />
<text transform="translate(516.5,15.6) scale(0.892,1)" font-size="7.8" text-anchor="start" font-weight="bold" fill="#000" >Free Ha006a</text>
<text transform="translate(516.5,26.4) scale(0.892,1)" font-size="7.8" text-anchor="start" font-weight="bold" fill="#000" >Immobilized Ha006a</text>
<polyline points="493.1,150.83 516.1,145.58 539.1,76.16 562.1,31.83 585.1,38.83 608.1,63.33 631.1,125.17 654.1,141.5" fill="none" stroke="#000" stroke-width="0.9" stroke-linejoin="miter"/>
<polyline points="493.1,150.83 516.1,140.33 539.1,95.42 562.1,52.83 585.1,31.83 608.1,40.58 631.1,59.25 654.1,130.42" fill="none" stroke="#1010f5" stroke-width="0.9" stroke-linejoin="miter"/>
<line x1="493.1" y1="149.93" x2="493.1" y2="151.73" stroke="#000" stroke-width="0.8" />
<line x1="491.4" y1="149.93" x2="494.8" y2="149.93" stroke="#000" stroke-width="0.8" />
<line x1="491.4" y1="151.73" x2="494.8" y2="151.73" stroke="#000" stroke-width="0.8" />
<line x1="516.1" y1="144.68" x2="516.1" y2="146.48" stroke="#000" stroke-width="0.8" />
<line x1="514.4" y1="144.68" x2="517.8" y2="144.68" stroke="#000" stroke-width="0.8" />
<line x1="514.4" y1="146.48" x2="517.8" y2="146.48" stroke="#000" stroke-width="0.8" />
<line x1="539.1" y1="75.26" x2="539.1" y2="77.06" stroke="#000" stroke-width="0.8" />
<line x1="537.4" y1="75.26" x2="540.8" y2="75.26" stroke="#000" stroke-width="0.8" />
<line x1="537.4" y1="77.06" x2="540.8" y2="77.06" stroke="#000" stroke-width="0.8" />
<line x1="562.1" y1="30.93" x2="562.1" y2="32.73" stroke="#000" stroke-width="0.8" />
<line x1="560.4" y1="30.93" x2="563.8" y2="30.93" stroke="#000" stroke-width="0.8" />
<line x1="560.4" y1="32.73" x2="563.8" y2="32.73" stroke="#000" stroke-width="0.8" />
<line x1="585.1" y1="37.93" x2="585.1" y2="39.73" stroke="#000" stroke-width="0.8" />
<line x1="583.4" y1="37.93" x2="586.8" y2="37.93" stroke="#000" stroke-width="0.8" />
<line x1="583.4" y1="39.73" x2="586.8" y2="39.73" stroke="#000" stroke-width="0.8" />
<line x1="608.1" y1="62.43" x2="608.1" y2="64.23" stroke="#000" stroke-width="0.8" />
<line x1="606.4" y1="62.43" x2="609.8" y2="62.43" stroke="#000" stroke-width="0.8" />
<line x1="606.4" y1="64.23" x2="609.8" y2="64.23" stroke="#000" stroke-width="0.8" />
<line x1="631.1" y1="124.27" x2="631.1" y2="126.07" stroke="#000" stroke-width="0.8" />
<line x1="629.4" y1="124.27" x2="632.8" y2="124.27" stroke="#000" stroke-width="0.8" />
<line x1="629.4" y1="126.07" x2="632.8" y2="126.07" stroke="#000" stroke-width="0.8" />
<line x1="654.1" y1="140.6" x2="654.1" y2="142.4" stroke="#000" stroke-width="0.8" />
<line x1="652.4" y1="140.6" x2="655.8" y2="140.6" stroke="#000" stroke-width="0.8" />
<line x1="652.4" y1="142.4" x2="655.8" y2="142.4" stroke="#000" stroke-width="0.8" />
<line x1="493.1" y1="149.93" x2="493.1" y2="151.73" stroke="#1010f5" stroke-width="0.8" />
<line x1="491.4" y1="149.93" x2="494.8" y2="149.93" stroke="#1010f5" stroke-width="0.8" />
<line x1="491.4" y1="151.73" x2="494.8" y2="151.73" stroke="#1010f5" stroke-width="0.8" />
<line x1="516.1" y1="139.43" x2="516.1" y2="141.23" stroke="#1010f5" stroke-width="0.8" />
<line x1="514.4" y1="139.43" x2="517.8" y2="139.43" stroke="#1010f5" stroke-width="0.8" />
<line x1="514.4" y1="141.23" x2="517.8" y2="141.23" stroke="#1010f5" stroke-width="0.8" />
<line x1="539.1" y1="94.52" x2="539.1" y2="96.32" stroke="#1010f5" stroke-width="0.8" />
<line x1="537.4" y1="94.52" x2="540.8" y2="94.52" stroke="#1010f5" stroke-width="0.8" />
<line x1="537.4" y1="96.32" x2="540.8" y2="96.32" stroke="#1010f5" stroke-width="0.8" />
<line x1="562.1" y1="51.93" x2="562.1" y2="53.73" stroke="#1010f5" stroke-width="0.8" />
<line x1="560.4" y1="51.93" x2="563.8" y2="51.93" stroke="#1010f5" stroke-width="0.8" />
<line x1="560.4" y1="53.73" x2="563.8" y2="53.73" stroke="#1010f5" stroke-width="0.8" />
<line x1="585.1" y1="30.93" x2="585.1" y2="32.73" stroke="#1010f5" stroke-width="0.8" />
<line x1="583.4" y1="30.93" x2="586.8" y2="30.93" stroke="#1010f5" stroke-width="0.8" />
<line x1="583.4" y1="32.73" x2="586.8" y2="32.73" stroke="#1010f5" stroke-width="0.8" />
<line x1="608.1" y1="39.68" x2="608.1" y2="41.48" stroke="#1010f5" stroke-width="0.8" />
<line x1="606.4" y1="39.68" x2="609.8" y2="39.68" stroke="#1010f5" stroke-width="0.8" />
<line x1="606.4" y1="41.48" x2="609.8" y2="41.48" stroke="#1010f5" stroke-width="0.8" />
<line x1="631.1" y1="58.35" x2="631.1" y2="60.15" stroke="#1010f5" stroke-width="0.8" />
<line x1="629.4" y1="58.35" x2="632.8" y2="58.35" stroke="#1010f5" stroke-width="0.8" />
<line x1="629.4" y1="60.15" x2="632.8" y2="60.15" stroke="#1010f5" stroke-width="0.8" />
<line x1="654.1" y1="129.52" x2="654.1" y2="131.32" stroke="#1010f5" stroke-width="0.8" />
<line x1="652.4" y1="129.52" x2="655.8" y2="129.52" stroke="#1010f5" stroke-width="0.8" />
<line x1="652.4" y1="131.32" x2="655.8" y2="131.32" stroke="#1010f5" stroke-width="0.8" />
<line x1="30.6" y1="202.3" x2="30.6" y2="358.4" stroke="#000" stroke-width="1.3" />
<line x1="27.6" y1="322.23" x2="30.6" y2="322.23" stroke="#000" stroke-width="1.3" />
<text transform="translate(25.8,325.23) scale(0.9,1)" font-size="8.4" text-anchor="end" font-weight="bold" fill="#000" >0.1</text>
<line x1="27.6" y1="282.26" x2="30.6" y2="282.26" stroke="#000" stroke-width="1.3" />
<text transform="translate(25.8,285.26) scale(0.9,1)" font-size="8.4" text-anchor="end" font-weight="bold" fill="#000" >0.2</text>
<line x1="27.6" y1="242.29" x2="30.6" y2="242.29" stroke="#000" stroke-width="1.3" />
<text transform="translate(25.8,245.29) scale(0.9,1)" font-size="8.4" text-anchor="end" font-weight="bold" fill="#000" >0.3</text>
<line x1="27.6" y1="202.32" x2="30.6" y2="202.32" stroke="#000" stroke-width="1.3" />
<text transform="translate(25.8,205.32) scale(0.9,1)" font-size="8.4" text-anchor="end" font-weight="bold" fill="#000" >0.4</text>
<line x1="30.6" y1="358.4" x2="212.8" y2="358.4" stroke="#000" stroke-width="1.3" />
<line x1="30.6" y1="358.4" x2="30.6" y2="361.4" stroke="#000" stroke-width="1.3" />
<line x1="53.25" y1="358.4" x2="53.25" y2="361.4" stroke="#000" stroke-width="1.3" />
<line x1="75.9" y1="358.4" x2="75.9" y2="361.4" stroke="#000" stroke-width="1.3" />
<line x1="98.55" y1="358.4" x2="98.55" y2="361.4" stroke="#000" stroke-width="1.3" />
<line x1="121.2" y1="358.4" x2="121.2" y2="361.4" stroke="#000" stroke-width="1.3" />
<line x1="143.85" y1="358.4" x2="143.85" y2="361.4" stroke="#000" stroke-width="1.3" />
<line x1="166.5" y1="358.4" x2="166.5" y2="361.4" stroke="#000" stroke-width="1.3" />
<line x1="189.15" y1="358.4" x2="189.15" y2="361.4" stroke="#000" stroke-width="1.3" />
<line x1="211.8" y1="358.4" x2="211.8" y2="361.4" stroke="#000" stroke-width="1.3" />
<text transform="translate(30.6,370) scale(0.88,1)" font-size="8.4" text-anchor="middle" font-weight="bold" fill="#000" >0</text>
<text transform="translate(53.25,370) scale(0.88,1)" font-size="8.4" text-anchor="middle" font-weight="bold" fill="#000" >20</text>
<text transform="translate(75.9,370) scale(0.88,1)" font-size="8.4" text-anchor="middle" font-weight="bold" fill="#000" >40</text>
<text transform="translate(98.55,370) scale(0.88,1)" font-size="8.4" text-anchor="middle" font-weight="bold" fill="#000" >60</text>
<text transform="translate(121.2,370) scale(0.88,1)" font-size="8.4" text-anchor="middle" font-weight="bold" fill="#000" >80</text>
<text transform="translate(143.85,370) scale(0.88,1)" font-size="8.4" text-anchor="middle" font-weight="bold" fill="#000" >100</text>
<text transform="translate(166.5,370) scale(0.88,1)" font-size="8.4" text-anchor="middle" font-weight="bold" fill="#000" >120</text>
<text transform="translate(189.15,370) scale(0.88,1)" font-size="8.4" text-anchor="middle" font-weight="bold" fill="#000" >140</text>
<text transform="translate(211.8,370) scale(0.88,1)" font-size="8.4" text-anchor="middle" font-weight="bold" fill="#000" >160</text>
<text transform="translate(5.3,219.8) scale(1.0,1)" font-size="11.2" text-anchor="middle" font-weight="bold" fill="#000" >D</text>
<text transform="translate(9.9,280) rotate(-90) scale(0.916,1)" font-size="10.2" text-anchor="middle" font-weight="bold" >V<tspan font-size="6.8" dy="2.8">0</tspan><tspan dy="-2.8"> (μmoles/min)</tspan></text>
<text transform="translate(121.6,384.5) scale(0.94,1)" font-size="9.4" text-anchor="middle" font-weight="bold" fill="#000" >Substrate (μM)</text>
<line x1="36.3" y1="219" x2="210" y2="219" stroke="#777" stroke-width="1" stroke-dasharray="1 3.41"/>
<text transform="translate(213.5,222) scale(0.86,1)" font-size="8.8" text-anchor="start" font-weight="bold" fill="#000" >0.359</text>
<text transform="translate(209.8,231.0) scale(0.9,1)" font-size="8.8" font-weight="bold" fill="#000">(V<tspan font-size="5.5" dy="1.6">max</tspan><tspan dy="-1.6">)</tspan></text>
<path d="M30.7,358.2 C31.12,356.22 32.35,350.9 33.2,346.3 C34.05,341.7 34.92,335.62 35.8,330.6 C36.68,325.58 37.53,321.08 38.5,316.2 C39.47,311.32 40.3,306.52 41.6,301.3 C42.9,296.08 44.43,289.7 46.3,284.9 C48.17,280.1 50.62,275.72 52.8,272.5 C54.98,269.28 57,267.6 59.4,265.6 C61.8,263.6 64.82,261.98 67.2,260.5 C69.58,259.02 70.8,257.87 73.7,256.7 C76.6,255.53 80.97,254.45 84.6,253.5 C88.23,252.55 91.87,251.67 95.5,251 C99.13,250.33 102.77,249.95 106.4,249.5 C110.03,249.05 113.37,248.68 117.3,248.3 C121.23,247.92 124.2,247.52 130,247.2 C135.8,246.88 143.07,246.68 152.1,246.4 C161.13,246.12 174.3,245.75 184.2,245.5 C194.1,245.25 206.95,245 211.5,244.9" fill="none" stroke="#000" stroke-width="1.2"/>
<rect x="39.7" y="299.7" width="3.4" height="3.4" fill="#ee1111"/>
<rect x="51.2" y="270.5" width="3.4" height="3.4" fill="#ee1111"/>
<rect x="73.9" y="247.3" width="3.4" height="3.4" fill="#ee1111"/>
<rect x="119.4" y="236.7" width="3.4" height="3.4" fill="#ee1111"/>
<rect x="209.6" y="246.6" width="3.4" height="3.4" fill="#ee1111"/>
<line x1="325.5" y1="208.6" x2="325.5" y2="356.3" stroke="#000" stroke-width="1.3" />
<line x1="322.5" y1="354.6" x2="325.5" y2="354.6" stroke="#000" stroke-width="1.3" />
<text transform="translate(321.1,357.1) scale(0.92,1)" font-size="8.2" text-anchor="end" font-weight="bold" fill="#000" >0</text>
<line x1="322.5" y1="340" x2="325.5" y2="340" stroke="#000" stroke-width="1.3" />
<text transform="translate(321.1,342.5) scale(0.92,1)" font-size="8.2" text-anchor="end" font-weight="bold" fill="#000" >1</text>
<line x1="322.5" y1="325.4" x2="325.5" y2="325.4" stroke="#000" stroke-width="1.3" />
<text transform="translate(321.1,327.9) scale(0.92,1)" font-size="8.2" text-anchor="end" font-weight="bold" fill="#000" >2</text>
<line x1="322.5" y1="310.8" x2="325.5" y2="310.8" stroke="#000" stroke-width="1.3" />
<text transform="translate(321.1,313.3) scale(0.92,1)" font-size="8.2" text-anchor="end" font-weight="bold" fill="#000" >3</text>
<line x1="322.5" y1="296.2" x2="325.5" y2="296.2" stroke="#000" stroke-width="1.3" />
<text transform="translate(321.1,298.7) scale(0.92,1)" font-size="8.2" text-anchor="end" font-weight="bold" fill="#000" >4</text>
<line x1="322.5" y1="281.6" x2="325.5" y2="281.6" stroke="#000" stroke-width="1.3" />
<text transform="translate(321.1,284.1) scale(0.92,1)" font-size="8.2" text-anchor="end" font-weight="bold" fill="#000" >5</text>
<line x1="322.5" y1="267" x2="325.5" y2="267" stroke="#000" stroke-width="1.3" />
<text transform="translate(321.1,269.5) scale(0.92,1)" font-size="8.2" text-anchor="end" font-weight="bold" fill="#000" >6</text>
<line x1="322.5" y1="252.4" x2="325.5" y2="252.4" stroke="#000" stroke-width="1.3" />
<text transform="translate(321.1,254.9) scale(0.92,1)" font-size="8.2" text-anchor="end" font-weight="bold" fill="#000" >7</text>
<line x1="322.5" y1="237.8" x2="325.5" y2="237.8" stroke="#000" stroke-width="1.3" />
<text transform="translate(321.1,240.3) scale(0.92,1)" font-size="8.2" text-anchor="end" font-weight="bold" fill="#000" >8</text>
<line x1="322.5" y1="223.2" x2="325.5" y2="223.2" stroke="#000" stroke-width="1.3" />
<text transform="translate(321.1,225.7) scale(0.92,1)" font-size="8.2" text-anchor="end" font-weight="bold" fill="#000" >9</text>
<line x1="322.5" y1="208.6" x2="325.5" y2="208.6" stroke="#000" stroke-width="1.3" />
<text transform="translate(321.1,211.1) scale(0.92,1)" font-size="8.2" text-anchor="end" font-weight="bold" fill="#000" >10</text>
<line x1="261.4" y1="356.3" x2="441" y2="356.3" stroke="#000" stroke-width="1.3" />
<line x1="279.5" y1="356.3" x2="279.5" y2="359.3" stroke="#000" stroke-width="1.3" />
<line x1="302.5" y1="356.3" x2="302.5" y2="359.3" stroke="#000" stroke-width="1.3" />
<line x1="325.5" y1="356.3" x2="325.5" y2="359.3" stroke="#000" stroke-width="1.3" />
<line x1="348.5" y1="356.3" x2="348.5" y2="359.3" stroke="#000" stroke-width="1.3" />
<line x1="371.5" y1="356.3" x2="371.5" y2="359.3" stroke="#000" stroke-width="1.3" />
<line x1="394.5" y1="356.3" x2="394.5" y2="359.3" stroke="#000" stroke-width="1.3" />
<line x1="417.5" y1="356.3" x2="417.5" y2="359.3" stroke="#000" stroke-width="1.3" />
<line x1="440.5" y1="356.3" x2="440.5" y2="359.3" stroke="#000" stroke-width="1.3" />
<text transform="translate(279.5,367.5) scale(0.9,1)" font-size="8.0" text-anchor="middle" font-weight="bold" fill="#000" >−0.08</text>
<text transform="translate(302.5,367.5) scale(0.9,1)" font-size="8.0" text-anchor="middle" font-weight="bold" fill="#000" >−0.04</text>
<text transform="translate(325.5,367.5) scale(0.9,1)" font-size="8.0" text-anchor="middle" font-weight="bold" fill="#000" >0.00</text>
<text transform="translate(348.5,367.5) scale(0.9,1)" font-size="8.0" text-anchor="middle" font-weight="bold" fill="#000" >0.04</text>
<text transform="translate(371.5,367.5) scale(0.9,1)" font-size="8.0" text-anchor="middle" font-weight="bold" fill="#000" >0.08</text>
<text transform="translate(394.5,367.5) scale(0.9,1)" font-size="8.0" text-anchor="middle" font-weight="bold" fill="#000" >0.12</text>
<text transform="translate(417.5,367.5) scale(0.9,1)" font-size="8.0" text-anchor="middle" font-weight="bold" fill="#000" >0.16</text>
<text transform="translate(440.5,367.5) scale(0.9,1)" font-size="8.0" text-anchor="middle" font-weight="bold" fill="#000" >0.20</text>
<text transform="translate(280.4,217.8) scale(0.8,1)" font-size="11.8" text-anchor="middle" font-weight="bold" fill="#000" >E</text>
<text transform="translate(307,251.4) rotate(-90) scale(0.97,1)" font-size="9.2" text-anchor="middle" font-weight="bold" >1/ [V](μmoles/min)<tspan font-size="6.4" dy="-4">-1</tspan></text>
<text transform="translate(351,382.6) scale(0.93,1)" font-size="9" font-weight="bold" text-anchor="middle">1/ [S](μM)<tspan font-size="6.3" dy="-4">-1</tspan></text>
<line x1="294.5" y1="355.3" x2="328" y2="312.3" stroke="#000" stroke-width="1.3" stroke-dasharray="1.1 1.2"/>
<line x1="328" y1="312.3" x2="383.6" y2="242.7" stroke="#000" stroke-width="1.3"/>
<rect x="327.5" y="301.8" width="3.4" height="3.4" fill="#ee1111"/>
<rect x="331" y="306" width="3.4" height="3.4" fill="#ee1111"/>
<rect x="338.4" y="301.4" width="3.4" height="3.4" fill="#ee1111"/>
<rect x="352.8" y="288" width="3.4" height="3.4" fill="#ee1111"/>
<rect x="381.4" y="256.7" width="3.4" height="3.4" fill="#ee1111"/>
<line x1="490.4" y1="203" x2="490.4" y2="358" stroke="#000" stroke-width="1.3" />
<line x1="487.4" y1="358" x2="490.4" y2="358" stroke="#000" stroke-width="1.3" />
<line x1="487.4" y1="332.15" x2="490.4" y2="332.15" stroke="#000" stroke-width="1.3" />
<line x1="487.4" y1="306.3" x2="490.4" y2="306.3" stroke="#000" stroke-width="1.3" />
<line x1="487.4" y1="280.45" x2="490.4" y2="280.45" stroke="#000" stroke-width="1.3" />
<line x1="487.4" y1="254.6" x2="490.4" y2="254.6" stroke="#000" stroke-width="1.3" />
<line x1="487.4" y1="228.75" x2="490.4" y2="228.75" stroke="#000" stroke-width="1.3" />
<line x1="487.4" y1="202.9" x2="490.4" y2="202.9" stroke="#000" stroke-width="1.3" />
<line x1="488.8" y1="345.07" x2="490.4" y2="345.07" stroke="#000" stroke-width="1.3" />
<line x1="488.8" y1="319.23" x2="490.4" y2="319.23" stroke="#000" stroke-width="1.3" />
<line x1="488.8" y1="293.38" x2="490.4" y2="293.38" stroke="#000" stroke-width="1.3" />
<line x1="488.8" y1="267.52" x2="490.4" y2="267.52" stroke="#000" stroke-width="1.3" />
<line x1="488.8" y1="241.68" x2="490.4" y2="241.68" stroke="#000" stroke-width="1.3" />
<line x1="488.8" y1="215.82" x2="490.4" y2="215.82" stroke="#000" stroke-width="1.3" />
<text transform="translate(485.3,360.7) scale(0.88,1)" font-size="8.4" text-anchor="end" font-weight="bold" fill="#000" >0</text>
<text transform="translate(485.3,334.85) scale(0.88,1)" font-size="8.4" text-anchor="end" font-weight="bold" fill="#000" >20</text>
<text transform="translate(485.3,309) scale(0.88,1)" font-size="8.4" text-anchor="end" font-weight="bold" fill="#000" >40</text>
<text transform="translate(485.3,283.15) scale(0.88,1)" font-size="8.4" text-anchor="end" font-weight="bold" fill="#000" >60</text>
<text transform="translate(485.3,257.3) scale(0.88,1)" font-size="8.4" text-anchor="end" font-weight="bold" fill="#000" >80</text>
<text transform="translate(485.3,231.45) scale(0.88,1)" font-size="8.4" text-anchor="end" font-weight="bold" fill="#000" >100</text>
<text transform="translate(485.3,205.6) scale(0.88,1)" font-size="8.4" text-anchor="end" font-weight="bold" fill="#000" >120</text>
<line x1="490.4" y1="358" x2="682.7" y2="358" stroke="#000" stroke-width="1.3" />
<line x1="504.8" y1="358" x2="504.8" y2="361" stroke="#000" stroke-width="1.3" />
<line x1="533.26" y1="358" x2="533.26" y2="361" stroke="#000" stroke-width="1.3" />
<line x1="561.72" y1="358" x2="561.72" y2="361" stroke="#000" stroke-width="1.3" />
<line x1="590.18" y1="358" x2="590.18" y2="361" stroke="#000" stroke-width="1.3" />
<line x1="618.64" y1="358" x2="618.64" y2="361" stroke="#000" stroke-width="1.3" />
<line x1="647.1" y1="358" x2="647.1" y2="361" stroke="#000" stroke-width="1.3" />
<line x1="675.56" y1="358" x2="675.56" y2="361" stroke="#000" stroke-width="1.3" />
<line x1="519.03" y1="358" x2="519.03" y2="359.6" stroke="#000" stroke-width="1.3" />
<line x1="547.49" y1="358" x2="547.49" y2="359.6" stroke="#000" stroke-width="1.3" />
<line x1="575.95" y1="358" x2="575.95" y2="359.6" stroke="#000" stroke-width="1.3" />
<line x1="604.41" y1="358" x2="604.41" y2="359.6" stroke="#000" stroke-width="1.3" />
<line x1="632.87" y1="358" x2="632.87" y2="359.6" stroke="#000" stroke-width="1.3" />
<line x1="661.33" y1="358" x2="661.33" y2="359.6" stroke="#000" stroke-width="1.3" />
<text transform="translate(504.8,370.3) scale(0.88,1)" font-size="8.4" text-anchor="middle" font-weight="bold" fill="#000" >0</text>
<text transform="translate(533.26,370.3) scale(0.88,1)" font-size="8.4" text-anchor="middle" font-weight="bold" fill="#000" >2</text>
<text transform="translate(561.72,370.3) scale(0.88,1)" font-size="8.4" text-anchor="middle" font-weight="bold" fill="#000" >4</text>
<text transform="translate(590.18,370.3) scale(0.88,1)" font-size="8.4" text-anchor="middle" font-weight="bold" fill="#000" >6</text>
<text transform="translate(618.64,370.3) scale(0.88,1)" font-size="8.4" text-anchor="middle" font-weight="bold" fill="#000" >8</text>
<text transform="translate(647.1,370.3) scale(0.88,1)" font-size="8.4" text-anchor="middle" font-weight="bold" fill="#000" >10</text>
<text transform="translate(675.56,370.3) scale(0.88,1)" font-size="8.4" text-anchor="middle" font-weight="bold" fill="#000" >12</text>
<text transform="translate(468.2,219.9) scale(0.85,1)" font-size="11.8" text-anchor="middle" font-weight="bold" fill="#000" >F</text>
<text transform="translate(468,280.55) rotate(-90) scale(0.953,1)" font-size="10.0" text-anchor="middle" font-weight="bold" >Relative activity (%)</text>
<text transform="translate(586.6,384.6) scale(0.93,1)" font-size="10.0" text-anchor="middle" font-weight="bold" fill="#000" >Months</text>
<line x1="493.2" y1="207" x2="509.7" y2="207" stroke="#444" stroke-width="0.9" />
<line x1="493.2" y1="216.1" x2="509.7" y2="216.1" stroke="#1010f5" stroke-width="0.9" />
<rect x="499.7" y="205.3" width="3.4" height="3.4" fill="#000"/>
<circle cx="501.4" cy="216.1" r="1.9" fill="#1010f5"/>
<text transform="translate(511.7,209.6) scale(0.899,1)" font-size="8.1" text-anchor="start" font-weight="bold" fill="#000" >Free Ha006a</text>
<text transform="translate(511.7,218.8) scale(0.9,1)" font-size="8.1" text-anchor="start" font-weight="bold" fill="#000" >Immobilized Ha006a</text>
<polyline points="504.8,228.75 533.26,272.95 561.72,284.07 590.18,315.86 618.64,329.05 647.1,334.09 675.56,339.39" fill="none" stroke="#444" stroke-width="0.9" stroke-linejoin="miter"/>
<polyline points="504.8,228.75 533.26,242.32 561.72,251.5 590.18,267.27 618.64,270.89 647.1,282.13 675.56,295.44" fill="none" stroke="#1010f5" stroke-width="0.9" stroke-linejoin="miter"/>
<rect x="503.1" y="227.05" width="3.4" height="3.4" fill="#000"/>
<rect x="531.56" y="271.25" width="3.4" height="3.4" fill="#000"/>
<rect x="560.02" y="282.37" width="3.4" height="3.4" fill="#000"/>
<rect x="588.48" y="314.16" width="3.4" height="3.4" fill="#000"/>
<rect x="616.94" y="327.35" width="3.4" height="3.4" fill="#000"/>
<rect x="645.4" y="332.39" width="3.4" height="3.4" fill="#000"/>
<rect x="673.86" y="337.69" width="3.4" height="3.4" fill="#000"/>
<circle cx="504.8" cy="228.75" r="2.3" fill="#1010f5"/>
<circle cx="533.26" cy="242.32" r="1.9" fill="#1010f5"/>
<circle cx="561.72" cy="251.5" r="1.9" fill="#1010f5"/>
<circle cx="590.18" cy="267.27" r="1.9" fill="#1010f5"/>
<circle cx="618.64" cy="270.89" r="1.9" fill="#1010f5"/>
<circle cx="647.1" cy="282.13" r="1.9" fill="#1010f5"/>
<circle cx="675.56" cy="295.44" r="1.9" fill="#1010f5"/>
</svg>
</body></html>
